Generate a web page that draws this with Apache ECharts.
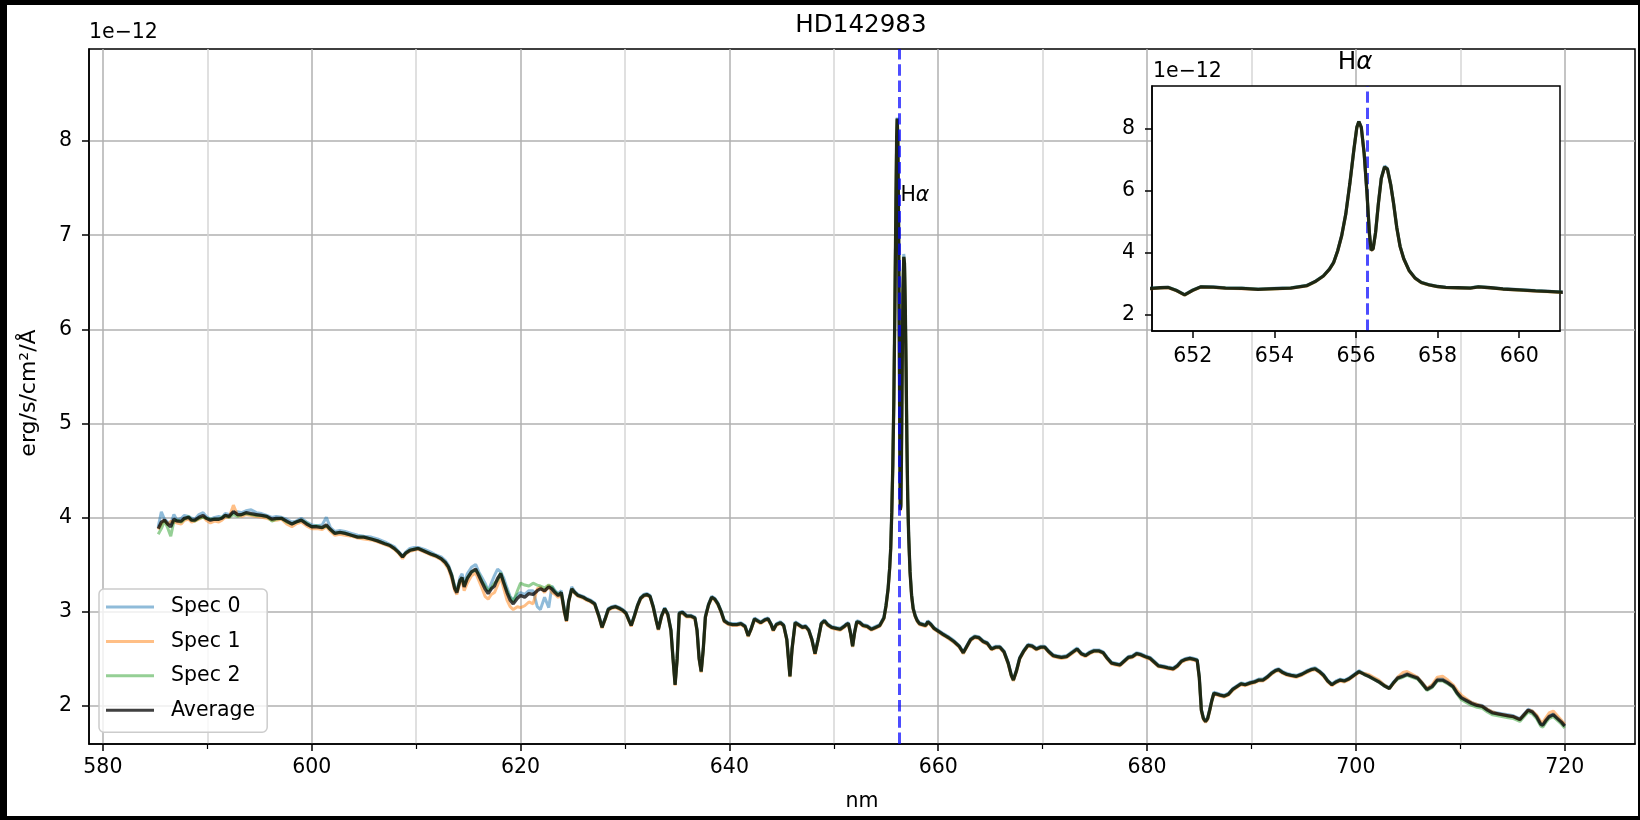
<!DOCTYPE html>
<html><head><meta charset="utf-8">
<script src="https://cdn.jsdelivr.net/npm/echarts@6/dist/echarts.min.js"></script>
<style>html,body{margin:0;padding:0;background:#000}#c{width:1640px;height:820px}</style>
</head><body><div id="c"></div>
<script>
// ---------- data (wavelength in nm, flux in 1e-12 erg/s/cm2/A) ----------
const wl = [
585.3,585.6,585.9,586.2,586.5,586.8,587.1,587.5,587.8,588.2,
588.5,588.8,589.2,589.6,589.9,590.3,590.7,591.1,591.4,591.7,
592.1,592.5,592.9,593.3,593.7,594.2,594.7,595.2,595.7,596.2,
596.6,597.1,597.6,598.1,598.5,599.0,599.5,600.0,600.5,601.0,
601.4,601.8,602.2,602.7,603.2,603.8,604.4,605.0,605.7,606.3,
607.0,607.5,607.9,608.3,608.7,609.0,609.4,609.8,610.2,610.8,
611.4,611.9,612.4,612.8,613.1,613.4,613.7,613.9,614.2,614.4,
614.6,614.9,615.3,615.7,616.0,616.3,616.6,616.9,617.2,617.5,
617.8,618.1,618.4,618.7,619.0,619.3,619.7,620.0,620.4,620.8,
621.2,621.6,621.9,622.3,622.7,623.0,623.3,623.6,623.9,624.2,
624.4,624.6,624.9,625.2,625.5,626.0,626.3,626.7,627.1,627.5,
627.8,628.1,628.4,628.7,629.1,629.5,629.8,630.1,630.4,630.6,
630.9,631.2,631.5,631.8,632.1,632.4,632.7,633.0,633.2,633.5,
633.8,634.1,634.4,634.6,634.8,635.0,635.2,635.5,635.9,636.3,
636.7,636.9,637.1,637.3,637.5,637.7,638.0,638.3,638.6,638.9,
639.2,639.5,639.9,640.3,640.7,641.1,641.5,641.8,642.1,642.4,
642.7,643.0,643.4,643.7,644.0,644.2,644.5,644.9,645.2,645.5,
645.8,646.0,646.3,646.6,647.0,647.3,647.6,647.9,648.2,648.5,
648.8,649.1,649.4,649.8,650.2,650.6,651.0,651.2,651.4,651.6,
651.8,652.0,652.2,652.5,652.8,653.2,653.6,654.0,654.4,654.8,
655.0,655.2,655.35,655.45,655.55,655.65,655.75,655.85,655.95,656.02,
656.07,656.13,656.2,656.27,656.33,656.37,656.42,656.48,656.55,656.62,
656.7,656.77,656.85,656.92,657.0,657.08,657.17,657.3,657.45,657.6,
657.8,658.0,658.2,658.5,658.8,659.0,659.3,659.6,660.0,660.4,
660.7,661.0,661.5,662.0,662.4,662.7,663.1,663.5,663.9,664.3,
664.7,665.1,665.5,665.9,666.3,666.7,667.0,667.2,667.5,667.8,
668.2,668.6,669.0,669.4,669.8,670.2,670.6,671.0,671.4,671.8,
672.3,672.8,673.3,673.7,674.1,674.5,674.9,675.4,675.8,676.2,
676.6,677.0,677.4,677.8,678.2,678.6,679.0,679.4,679.8,680.3,
680.7,681.1,681.6,682.0,682.5,682.9,683.3,683.7,684.1,684.5,
684.8,685.0,685.2,685.4,685.6,685.8,686.0,686.2,686.4,686.7,
687.0,687.4,687.8,688.2,688.6,689.0,689.4,689.9,690.3,690.7,
691.1,691.5,691.9,692.3,692.6,693.0,693.4,693.8,694.3,694.8,
695.3,695.7,696.1,696.5,696.9,697.3,697.7,698.1,698.5,698.9,
699.3,699.8,700.3,700.8,701.2,701.7,702.2,702.7,703.2,703.6,
704.0,704.5,704.9,705.4,705.9,706.3,706.8,707.3,707.8,708.3,
708.8,709.3,709.7,710.1,710.6,711.1,711.6,712.1,712.6,713.1,
713.6,714.1,714.6,715.1,715.7,716.1,716.5,716.9,717.3,717.7,
717.9,718.2,718.5,718.9,719.3,719.7,720.0];

const avg = [
3.88,3.95,3.97,3.93,3.90,3.98,3.96,3.96,3.99,4.00,
3.97,3.97,4.00,4.02,3.99,3.97,3.98,3.98,3.99,4.02,
4.01,4.06,4.03,4.03,4.05,4.04,4.03,4.02,4.01,3.98,
3.99,3.99,3.96,3.93,3.95,3.97,3.93,3.90,3.90,3.89,
3.92,3.87,3.83,3.84,3.83,3.81,3.79,3.79,3.77,3.75,
3.72,3.70,3.67,3.63,3.58,3.62,3.65,3.66,3.67,3.64,
3.61,3.59,3.56,3.52,3.47,3.38,3.24,3.20,3.33,3.36,
3.26,3.35,3.42,3.45,3.38,3.31,3.24,3.19,3.24,3.27,
3.35,3.40,3.30,3.20,3.12,3.08,3.14,3.17,3.15,3.19,
3.18,3.22,3.24,3.22,3.26,3.24,3.20,3.17,3.20,3.00,
2.90,3.10,3.24,3.20,3.17,3.15,3.13,3.11,3.08,2.95,
2.83,2.92,3.02,3.04,3.05,3.03,3.01,2.98,2.90,2.85,
2.95,3.06,3.14,3.17,3.18,3.16,3.05,2.90,2.81,2.95,
3.03,2.97,2.80,2.50,2.22,2.50,2.98,2.99,2.95,2.95,
2.93,2.80,2.50,2.36,2.60,2.94,3.07,3.15,3.13,3.08,
3.00,2.90,2.87,2.86,2.86,2.87,2.84,2.74,2.82,2.92,
2.90,2.88,2.91,2.92,2.86,2.80,2.86,2.88,2.85,2.70,
2.31,2.60,2.88,2.86,2.83,2.84,2.80,2.70,2.55,2.70,
2.87,2.90,2.86,2.83,2.82,2.81,2.84,2.86,2.87,2.77,
2.63,2.78,2.89,2.88,2.85,2.84,2.81,2.83,2.85,2.93,
3.06,3.24,3.46,3.67,4.05,4.55,5.25,6.24,7.35,8.05,
8.24,8.05,7.20,5.90,4.60,4.08,4.12,4.65,5.60,6.40,
6.77,6.70,6.20,5.60,4.80,4.20,3.80,3.42,3.17,3.03,
2.95,2.90,2.87,2.86,2.85,2.89,2.86,2.82,2.79,2.76,
2.74,2.72,2.68,2.63,2.56,2.62,2.70,2.73,2.72,2.68,
2.66,2.60,2.62,2.62,2.57,2.45,2.32,2.27,2.37,2.50,
2.58,2.64,2.63,2.60,2.62,2.62,2.57,2.53,2.52,2.51,
2.52,2.56,2.60,2.55,2.53,2.56,2.58,2.58,2.56,2.50,
2.45,2.44,2.43,2.47,2.51,2.52,2.55,2.54,2.52,2.50,
2.46,2.42,2.41,2.40,2.39,2.42,2.47,2.49,2.50,2.49,
2.48,2.30,1.95,1.86,1.83,1.86,1.95,2.05,2.13,2.12,
2.11,2.10,2.12,2.17,2.20,2.23,2.22,2.24,2.25,2.27,
2.27,2.30,2.34,2.37,2.38,2.35,2.33,2.32,2.31,2.33,
2.36,2.38,2.39,2.36,2.32,2.26,2.22,2.25,2.27,2.26,
2.28,2.32,2.36,2.33,2.31,2.28,2.25,2.21,2.18,2.24,
2.29,2.31,2.33,2.31,2.29,2.24,2.17,2.20,2.27,2.27,
2.24,2.20,2.13,2.08,2.05,2.02,2.00,1.99,1.95,1.92,
1.91,1.90,1.89,1.88,1.85,1.90,1.95,1.93,1.88,1.80,
1.79,1.84,1.88,1.90,1.86,1.82,1.78];

const spec0 = [
3.90,4.06,3.98,3.95,3.93,4.03,3.97,3.99,4.02,4.01,
3.99,3.98,4.03,4.05,4.01,3.98,4.00,4.01,4.00,4.04,
4.03,4.05,4.06,4.05,4.07,4.08,4.05,4.04,4.02,4.00,
4.01,4.00,3.98,3.95,3.96,3.99,3.95,3.92,3.91,3.92,
4.00,3.89,3.85,3.86,3.85,3.83,3.81,3.80,3.79,3.77,
3.74,3.71,3.69,3.64,3.59,3.63,3.67,3.68,3.68,3.66,
3.63,3.60,3.58,3.54,3.49,3.40,3.27,3.22,3.36,3.40,
3.30,3.40,3.47,3.50,3.42,3.36,3.30,3.22,3.30,3.38,
3.45,3.42,3.35,3.25,3.16,3.12,3.18,3.20,3.18,3.22,
3.22,3.05,3.02,3.15,3.04,3.27,3.22,3.19,3.22,3.02,
2.91,3.11,3.26,3.21,3.18,3.16,3.14,3.12,3.09,2.96,
2.84,2.93,3.03,3.05,3.06,3.04,3.02,2.99,2.91,2.86,
2.96,3.07,3.15,3.18,3.19,3.17,3.06,2.91,2.82,2.96,
3.04,2.98,2.81,2.51,2.23,2.51,2.99,3.00,2.96,2.96,
2.94,2.81,2.51,2.37,2.61,2.95,3.08,3.16,3.14,3.09,
3.01,2.91,2.88,2.87,2.87,2.88,2.85,2.75,2.83,2.93,
2.91,2.89,2.92,2.93,2.87,2.81,2.87,2.89,2.86,2.71,
2.32,2.61,2.89,2.87,2.84,2.85,2.81,2.71,2.56,2.71,
2.88,2.91,2.87,2.84,2.83,2.82,2.85,2.87,2.88,2.78,
2.64,2.79,2.90,2.89,2.86,2.85,2.82,2.84,2.86,2.94,
3.07,3.25,3.47,3.68,4.06,4.56,5.26,6.25,7.36,8.06,
8.25,8.06,7.21,5.91,4.62,4.10,4.14,4.67,5.62,6.43,
6.80,6.73,6.22,5.61,4.81,4.21,3.81,3.43,3.18,3.04,
2.96,2.91,2.88,2.87,2.86,2.90,2.87,2.83,2.80,2.77,
2.75,2.73,2.69,2.64,2.57,2.63,2.71,2.74,2.73,2.69,
2.67,2.61,2.63,2.63,2.58,2.46,2.33,2.28,2.38,2.51,
2.59,2.65,2.64,2.61,2.63,2.63,2.58,2.54,2.53,2.52,
2.53,2.57,2.61,2.56,2.54,2.57,2.59,2.59,2.57,2.51,
2.46,2.45,2.44,2.48,2.52,2.53,2.56,2.55,2.53,2.51,
2.47,2.43,2.42,2.41,2.40,2.43,2.48,2.50,2.51,2.50,
2.49,2.31,1.96,1.87,1.84,1.87,1.96,2.06,2.14,2.13,
2.12,2.11,2.13,2.18,2.21,2.24,2.23,2.25,2.26,2.28,
2.28,2.31,2.35,2.38,2.39,2.36,2.34,2.33,2.32,2.34,
2.37,2.39,2.40,2.37,2.33,2.27,2.23,2.26,2.28,2.27,
2.29,2.33,2.37,2.34,2.32,2.29,2.26,2.22,2.19,2.25,
2.30,2.32,2.34,2.32,2.30,2.25,2.18,2.21,2.28,2.28,
2.25,2.21,2.14,2.09,2.06,2.03,2.01,2.00,1.96,1.93,
1.92,1.91,1.90,1.89,1.86,1.91,1.96,1.94,1.89,1.81,
1.80,1.85,1.89,1.91,1.87,1.83,1.79];

const spec1 = [
3.87,3.93,3.97,3.92,3.96,3.95,3.94,3.93,3.97,3.98,
3.95,3.96,3.98,4.01,3.97,3.94,3.96,3.95,3.97,4.00,
4.00,4.13,4.02,4.01,4.03,4.02,4.01,4.00,3.99,3.97,
3.97,3.98,3.93,3.90,3.93,3.95,3.91,3.88,3.88,3.87,
3.90,3.85,3.81,3.82,3.81,3.80,3.78,3.77,3.76,3.74,
3.71,3.69,3.66,3.62,3.56,3.61,3.64,3.65,3.66,3.63,
3.60,3.58,3.55,3.50,3.45,3.35,3.22,3.18,3.30,3.33,
3.22,3.30,3.38,3.41,3.33,3.25,3.16,3.13,3.18,3.20,
3.28,3.36,3.24,3.12,3.05,3.02,3.05,3.04,3.06,3.10,
3.08,3.24,3.26,3.20,3.28,3.20,3.18,3.15,3.18,2.98,
2.89,3.09,3.23,3.19,3.16,3.14,3.12,3.10,3.07,2.94,
2.82,2.91,3.01,3.03,3.04,3.02,3.00,2.97,2.89,2.84,
2.94,3.05,3.13,3.16,3.17,3.15,3.04,2.89,2.80,2.94,
3.02,2.96,2.79,2.49,2.21,2.49,2.97,2.98,2.94,2.94,
2.92,2.79,2.49,2.35,2.59,2.93,3.06,3.14,3.12,3.07,
2.99,2.89,2.86,2.85,2.85,2.86,2.83,2.73,2.81,2.91,
2.89,2.87,2.90,2.91,2.85,2.79,2.85,2.87,2.84,2.69,
2.30,2.59,2.87,2.85,2.82,2.83,2.79,2.69,2.54,2.69,
2.86,2.89,2.85,2.82,2.81,2.80,2.83,2.85,2.86,2.76,
2.62,2.77,2.88,2.87,2.84,2.83,2.80,2.82,2.84,2.92,
3.05,3.23,3.45,3.66,4.04,4.54,5.24,6.23,7.34,8.04,
8.23,8.04,7.19,5.89,4.59,4.07,4.11,4.64,5.59,6.39,
6.76,6.69,6.19,5.59,4.79,4.19,3.79,3.41,3.16,3.02,
2.94,2.89,2.86,2.85,2.84,2.88,2.85,2.81,2.78,2.75,
2.73,2.71,2.67,2.62,2.55,2.61,2.69,2.72,2.71,2.67,
2.65,2.59,2.61,2.61,2.56,2.44,2.31,2.26,2.36,2.49,
2.57,2.63,2.62,2.59,2.61,2.61,2.56,2.52,2.51,2.50,
2.51,2.55,2.59,2.54,2.52,2.55,2.57,2.57,2.55,2.49,
2.44,2.43,2.42,2.46,2.50,2.51,2.54,2.53,2.51,2.49,
2.45,2.41,2.40,2.39,2.38,2.41,2.46,2.48,2.49,2.48,
2.47,2.29,1.94,1.85,1.82,1.85,1.94,2.04,2.12,2.11,
2.10,2.09,2.11,2.16,2.19,2.22,2.21,2.23,2.24,2.26,
2.26,2.29,2.33,2.36,2.37,2.34,2.32,2.31,2.30,2.32,
2.35,2.37,2.38,2.35,2.31,2.25,2.21,2.24,2.26,2.25,
2.27,2.31,2.35,2.34,2.33,2.30,2.27,2.22,2.18,2.23,
2.30,2.35,2.36,2.33,2.30,2.25,2.18,2.22,2.30,2.31,
2.27,2.22,2.16,2.11,2.07,2.03,2.01,1.99,1.96,1.93,
1.91,1.90,1.89,1.88,1.85,1.90,1.95,1.94,1.90,1.83,
1.82,1.87,1.92,1.94,1.89,1.84,1.80];

const spec2 = [
3.82,3.88,3.96,3.89,3.80,3.96,3.97,3.95,3.98,4.01,
3.97,3.96,3.99,4.00,3.99,3.98,3.98,3.98,4.00,4.02,
4.00,4.03,4.01,4.03,4.04,4.03,4.02,4.02,4.01,3.96,
3.98,3.99,3.95,3.93,3.95,3.97,3.94,3.90,3.91,3.89,
3.91,3.87,3.83,3.84,3.83,3.81,3.79,3.79,3.77,3.75,
3.72,3.70,3.67,3.63,3.58,3.62,3.65,3.66,3.67,3.64,
3.61,3.59,3.56,3.52,3.47,3.39,3.25,3.21,3.33,3.36,
3.27,3.36,3.42,3.44,3.40,3.32,3.27,3.22,3.25,3.30,
3.33,3.41,3.31,3.22,3.15,3.10,3.22,3.30,3.28,3.27,
3.30,3.28,3.27,3.25,3.28,3.26,3.21,3.18,3.20,3.01,
2.90,3.10,3.24,3.20,3.17,3.15,3.13,3.11,3.08,2.95,
2.83,2.92,3.02,3.04,3.05,3.03,3.01,2.98,2.90,2.85,
2.95,3.06,3.14,3.17,3.18,3.16,3.05,2.90,2.81,2.95,
3.03,2.97,2.80,2.50,2.22,2.50,2.98,2.99,2.95,2.95,
2.93,2.80,2.50,2.36,2.60,2.94,3.07,3.15,3.13,3.08,
3.00,2.90,2.87,2.86,2.86,2.87,2.84,2.74,2.82,2.92,
2.90,2.88,2.91,2.92,2.86,2.80,2.86,2.88,2.85,2.70,
2.31,2.60,2.88,2.86,2.83,2.84,2.80,2.70,2.55,2.70,
2.87,2.90,2.86,2.83,2.82,2.81,2.84,2.86,2.87,2.77,
2.63,2.78,2.89,2.88,2.85,2.84,2.81,2.83,2.85,2.93,
3.06,3.24,3.46,3.67,4.05,4.55,5.25,6.24,7.35,8.05,
8.24,8.05,7.20,5.90,4.60,4.08,4.12,4.65,5.60,6.40,
6.77,6.70,6.20,5.60,4.80,4.20,3.80,3.42,3.17,3.03,
2.95,2.90,2.87,2.86,2.85,2.89,2.86,2.82,2.79,2.76,
2.74,2.72,2.68,2.63,2.56,2.62,2.70,2.73,2.72,2.68,
2.66,2.60,2.62,2.62,2.57,2.45,2.32,2.27,2.37,2.50,
2.58,2.64,2.63,2.60,2.62,2.62,2.57,2.53,2.52,2.51,
2.52,2.56,2.60,2.55,2.53,2.56,2.58,2.58,2.56,2.50,
2.45,2.44,2.43,2.47,2.51,2.52,2.55,2.54,2.52,2.50,
2.46,2.42,2.41,2.40,2.39,2.42,2.47,2.49,2.50,2.49,
2.48,2.30,1.95,1.86,1.83,1.86,1.95,2.05,2.13,2.12,
2.11,2.10,2.12,2.17,2.20,2.23,2.22,2.24,2.25,2.27,
2.27,2.30,2.34,2.37,2.38,2.35,2.33,2.32,2.31,2.33,
2.36,2.38,2.39,2.36,2.32,2.26,2.22,2.25,2.27,2.26,
2.28,2.32,2.36,2.33,2.31,2.28,2.25,2.21,2.18,2.24,
2.28,2.30,2.32,2.30,2.28,2.23,2.16,2.19,2.26,2.26,
2.23,2.19,2.12,2.06,2.03,2.00,1.98,1.97,1.93,1.90,
1.89,1.88,1.87,1.86,1.83,1.88,1.93,1.91,1.86,1.78,
1.77,1.82,1.86,1.88,1.84,1.80,1.76];

const seriesNames = ['Spec 0', 'Spec 1', 'Spec 2', 'Average'];
const xMajorTicks = [580, 600, 620, 640, 660, 680, 700, 720];
const xMinorTicks = [590, 610, 630, 650, 670, 690, 710];
const yTicks = [2, 3, 4, 5, 6, 7, 8];
const insetXTicks = [652, 654, 656, 658, 660];
const insetYTicks = [2, 4, 6, 8];
const hAlpha = 656.28;
const hAlphaLabelY = 7.42;

// ---------- chart ----------
const F = 'DejaVu Sans';
const FS = 20.5;
const colors = ['rgba(31,119,180,0.5)', 'rgba(255,127,14,0.5)', 'rgba(44,160,44,0.5)', 'rgba(0,0,0,0.75)'];
const widths = [3, 3, 3, 3.3];
const allData = [spec0, spec1, spec2, avg];
const toXY = arr => wl.map((x, i) => [x, arr[i]]);

function mkSeries(xi, yi, z) {
  return allData.map((d, k) => ({
    type: 'line', name: seriesNames[k], xAxisIndex: xi, yAxisIndex: yi,
    data: toXY(d), symbol: 'none', showSymbol: false, z: z, silent: true, clip: true,
    lineStyle: { color: colors[k], width: widths[k] }, itemStyle: { color: colors[k] },
    emphasis: { disabled: true }, animation: false
  }));
}
const dashStyle = { color: 'rgba(0,0,255,0.7)', width: 3, type: [11.4, 4.9] };
const lbl = { color: '#000', fontSize: FS, fontFamily: F };
const tickStyle = { color: '#000', width: 1.5 };

const chart = echarts.init(document.getElementById('c'), null, { renderer: 'canvas', width: 1640, height: 820 });
chart.setOption({
  backgroundColor: 'transparent',
  animation: false,
  graphic: [
    { type: 'rect', z: -100, zlevel: 0, silent: true, shape: { x: 7, y: 5, width: 1631, height: 811 }, style: { fill: '#fff' } },
    { type: 'text', z: 100, silent: true, x: 861, y: 26, style: { text: 'HD142983', fontSize: 24.6, fontFamily: F, fill: '#000', textAlign: 'center', textVerticalAlign: 'middle' } },
    { type: 'text', z: 100, silent: true, x: 89, y: 33, style: { text: '1e\u221212', fontSize: FS, fontFamily: F, fill: '#000', textAlign: 'left', textVerticalAlign: 'middle' } },
    { type: 'text', z: 100, silent: true, x: 29, y: 393, rotation: Math.PI / 2, style: { text: 'erg/s/cm\u00b2/\u00c5', fontSize: 22, fontFamily: F, fill: '#000', textAlign: 'center', textVerticalAlign: 'middle' } },
    { type: 'text', z: 100, silent: true, x: 1355, y: 63, style: { text: 'H{it|\u03b1}', fontSize: 24.6, fontFamily: F, fill: '#000', textAlign: 'center', textVerticalAlign: 'middle', rich: { it: { fontStyle: 'italic', fontSize: 24.6, fontFamily: F, fill: '#000' } } } },
    { type: 'text', z: 100, silent: true, x: 1153, y: 72, style: { text: '1e\u221212', fontSize: FS, fontFamily: F, fill: '#000', textAlign: 'left', textVerticalAlign: 'middle' } }
  ],
  legend: {
    data: seriesNames, orient: 'vertical', left: 99, top: 589,
    icon: 'rect', itemWidth: 48, itemHeight: 3, itemGap: 12.4,
    padding: [7, 12, 11, 7],
    backgroundColor: 'rgba(255,255,255,0.8)', borderColor: '#cccccc', borderWidth: 1.5, borderRadius: 5,
    textStyle: { color: '#000', fontSize: FS, fontFamily: F, lineHeight: 22, padding: [0, 0, 0, 12] },
    selectedMode: false, z: 20
  },
  grid: [
    { left: 89, top: 49, width: 1546, height: 695, show: true, borderColor: '#000', borderWidth: 1.5, backgroundColor: 'transparent', z: 0 },
    { left: 1152, top: 86, width: 408, height: 245, show: true, borderColor: '#000', borderWidth: 1.5, backgroundColor: '#fff', z: 5 }
  ],
  xAxis: [
    { type: 'value', gridIndex: 0, min: 578.67, max: 726.73, position: 'bottom',
      axisLine: { show: true, onZero: false, lineStyle: tickStyle },
      axisTick: { show: true, customValues: xMajorTicks, length: 7, lineStyle: tickStyle },
      axisLabel: { show: true, customValues: xMajorTicks, margin: 13, ...lbl },
      splitLine: { show: true, lineStyle: { color: '#b0b0b0', width: 1.5 } },
      name: 'nm', nameLocation: 'middle', nameGap: 47, nameTextStyle: lbl },
    { type: 'value', gridIndex: 0, min: 578.67, max: 726.73, position: 'bottom',
      axisLine: { show: false, onZero: false },
      axisTick: { show: true, customValues: xMinorTicks, length: 5, lineStyle: { color: '#000', width: 1.2 } },
      axisLabel: { show: false },
      splitLine: { show: true, lineStyle: { color: '#d6d6d6', width: 1.5 } } },
    { type: 'value', gridIndex: 1, min: 651, max: 661, position: 'bottom', z: 6,
      axisLine: { show: true, onZero: false, lineStyle: tickStyle },
      axisTick: { show: true, customValues: insetXTicks, length: 7, lineStyle: tickStyle },
      axisLabel: { show: true, customValues: insetXTicks, margin: 15, ...lbl },
      splitLine: { show: false } }
  ],
  yAxis: [
    { type: 'value', gridIndex: 0, min: 1.59, max: 8.98,
      axisLine: { show: true, onZero: false, lineStyle: tickStyle },
      axisTick: { show: true, customValues: yTicks, length: 7, lineStyle: tickStyle },
      axisLabel: { show: true, customValues: yTicks, margin: 17, ...lbl },
      splitLine: { show: true, lineStyle: { color: '#b0b0b0', width: 1.5 } } },
    { type: 'value', gridIndex: 1, min: 1.46, max: 9.39, z: 6,
      axisLine: { show: true, onZero: false, lineStyle: tickStyle },
      axisTick: { show: true, customValues: insetYTicks, length: 7, lineStyle: tickStyle },
      axisLabel: { show: true, customValues: insetYTicks, margin: 17, ...lbl },
      splitLine: { show: false } }
  ],
  series: [
    ...mkSeries(0, 0, 2),
    { type: 'line', xAxisIndex: 0, yAxisIndex: 0, data: [], z: 3, silent: true,
      markLine: { silent: true, symbol: ['none', 'none'], label: { show: false }, lineStyle: dashStyle, emphasis: { disabled: true }, animation: false,
        data: [{ xAxis: hAlpha }] },
      markPoint: { silent: true, symbol: 'circle', symbolSize: 0, animation: false,
        label: { show: true, position: 'right', distance: 1, formatter: 'H{it|\u03b1}', color: '#000', fontSize: FS, fontFamily: F,
          rich: { it: { fontStyle: 'italic', fontSize: FS, fontFamily: F, color: '#000' } } },
        data: [{ coord: [hAlpha, hAlphaLabelY] }] } },
    ...mkSeries(2, 1, 7),
    { type: 'line', xAxisIndex: 2, yAxisIndex: 1, data: [], z: 8, silent: true,
      markLine: { silent: true, symbol: ['none', 'none'], label: { show: false }, lineStyle: dashStyle, emphasis: { disabled: true }, animation: false,
        data: [{ xAxis: hAlpha }] } }
  ]
});
</script></body></html>
